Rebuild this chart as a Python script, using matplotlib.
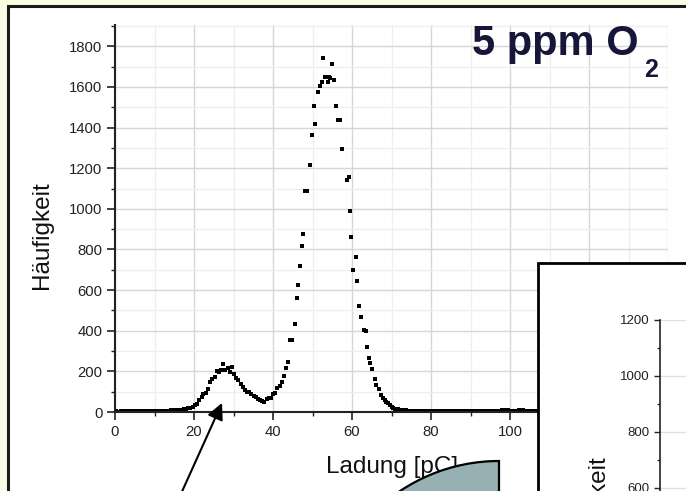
import matplotlib
matplotlib.use("Agg")
import matplotlib.pyplot as plt
from matplotlib.patches import Rectangle, Wedge
from matplotlib.ticker import MultipleLocator

plt.rcParams['font.family'] = ['Liberation Sans', 'DejaVu Sans']

# charge spectrum (pC) and counts per bin
charge_low = [0.3, 0.9, 1.4, 2.0, 2.5, 3.1, 3.6, 4.2, 4.7, 5.3, 5.8, 6.4, 6.9, 7.5, 8.0,
              8.6, 9.1, 9.7, 10.2, 10.8, 11.3, 11.9, 12.4, 13.0, 13.5, 14.1, 14.6, 15.2,
              15.7, 16.3]
counts_low = [3, 2, 3, 3, 2, 3, 3, 4, 3, 3, 4, 4, 3, 4, 4,
              5, 4, 5, 5, 5, 6, 6, 6, 7, 7, 8, 8, 9,
              10, 11]

charge_peak = [16.8, 17.4, 18.0, 18.5, 19.1, 19.7, 20.2, 20.7, 21.3, 21.9, 22.4, 23.0,
               23.6, 24.1, 24.6, 25.2, 25.7, 26.3, 26.8, 27.4, 27.9, 28.5, 29.0, 29.6,
               30.1, 30.7, 31.2, 31.8, 32.3, 32.9, 33.4, 34.0, 34.5, 35.1, 35.6, 36.2,
               36.7, 37.3, 37.8, 38.4, 38.9, 39.5, 40.0, 40.6, 41.1, 41.7, 42.2, 42.8,
               43.3, 43.8, 44.3, 44.9, 45.5, 46.0, 46.4, 46.8, 47.3, 47.7, 48.1, 48.6,
               49.4, 49.8, 50.3, 50.7, 51.3, 51.9, 52.4, 52.7, 53.2, 54.0, 54.1, 54.4,
               54.9, 55.4, 55.9, 56.4, 56.9, 57.4, 58.7, 59.2, 59.5, 59.7, 60.3, 60.9,
               61.3, 61.8, 62.4, 63.0, 63.5, 63.8, 64.3, 64.6, 65.1, 65.7, 66.2, 66.8,
               67.4, 67.8, 68.3, 68.7, 69.2, 69.6, 70.0, 70.4, 71.0, 71.6, 72.1]
counts_peak = [12, 13, 15, 18, 21, 25, 32, 38, 57, 74, 88, 95,
               112, 148, 160, 172, 200, 195, 208, 238, 205, 215, 198, 222,
               188, 168, 158, 140, 125, 110, 100, 96, 88, 78, 72, 65,
               58, 52, 50, 62, 70, 68, 90, 95, 120, 130, 150, 175,
               218, 248, 355, 352, 434, 561, 627, 717, 816, 874, 1086, 1086,
               1215, 1363, 1506, 1417, 1575, 1605, 1625, 1742, 1648, 1625, 1649, 1646,
               1713, 1635, 1506, 1437, 1437, 1294, 1141, 1156, 988, 859, 698, 762,
               643, 523, 466, 405, 400, 321, 268, 243, 212, 163, 133, 114,
               84, 68, 60, 51, 42, 35, 27, 21, 16, 13, 10]

charge_high = [72.6, 73.2, 73.7, 74.3, 74.8, 75.4, 75.9, 76.5, 77.0, 77.6, 78.1, 78.7,
               79.2, 79.8, 80.3, 80.9, 81.4, 82.0, 82.5, 83.1, 83.6, 84.2, 84.7, 85.3,
               85.8, 86.4, 86.9, 87.5, 88.0, 88.6, 89.1, 89.7, 90.2, 90.8, 91.3, 91.9,
               92.4, 93.0, 93.5, 94.1, 94.6, 95.2, 95.7, 96.3, 96.8, 97.4, 97.9, 98.5,
               99.0, 99.6, 100.1, 100.7, 101.2, 101.8, 102.3, 102.9, 103.4, 104.0,
               104.5, 105.1, 105.6, 106.2, 106.7]
counts_high = [9, 8, 8, 7, 7, 7, 6, 6, 6, 5, 6, 5,
               5, 5, 5, 4, 5, 4, 5, 4, 4, 5, 4, 4,
               5, 4, 4, 5, 4, 4, 5, 5, 4, 4, 5, 4,
               5, 4, 4, 5, 5, 4, 5, 6, 6, 7, 8, 9,
               9, 8, 7, 6, 5, 6, 8, 9, 8, 6,
               5, 5, 4, 5, 4]

x_ticks = [0, 20, 40, 60, 80, 100, 120, 140]
y_ticks = [0, 200, 400, 600, 800, 1000, 1200, 1400, 1600, 1800]
inset_ticks = [0, 200, 400, 600, 800, 1000, 1200]

W, H = 686, 491
fig = plt.figure(figsize=(W / 100, H / 100), dpi=100)
fig.patch.set_facecolor('#fcfee3')

# slide frame
bg = fig.add_axes([0, 0, 1, 1], zorder=0)
bg.set_xlim(0, W)
bg.set_ylim(H, 0)
bg.axis('off')
bg.add_patch(Rectangle((8, 6), 700, 500, facecolor='white', edgecolor='#1c1c1c', lw=2.2))

# main spectrum
ax = fig.add_axes([115 / W, 1 - 412 / H, 553 / W, 387 / H], zorder=1)
ax.set_facecolor('none')
ax.plot(charge_low, counts_low, 's', ms=2.6, mew=0, color='black')
ax.plot(charge_peak, counts_peak, 's', ms=2.6, mew=0, color='black')
ax.plot(charge_high, counts_high, 's', ms=2.6, mew=0, color='black')
ax.set_xlim(0, 140)
ax.set_ylim(0, 1905)
ax.set_xticks(x_ticks)
ax.set_yticks(y_ticks)
ax.xaxis.set_minor_locator(MultipleLocator(10))
ax.yaxis.set_minor_locator(MultipleLocator(100))
ax.grid(which='major', color='#d6d6d6', lw=1.0)
ax.grid(which='minor', color='#eeeeee', lw=0.9)
ax.set_axisbelow(True)
for s in ['top', 'right']:
    ax.spines[s].set_visible(False)
for s in ['left', 'bottom']:
    ax.spines[s].set_linewidth(1.5)
    ax.spines[s].set_color('#222222')
ax.tick_params(which='major', length=5.5, width=1.2, color='#222222', labelsize=10.7,
               labelcolor='#222222')
ax.tick_params(which='minor', length=3.2, width=1.0, color='#222222')
ax.tick_params(axis='x', pad=3.5)
ax.tick_params(axis='y', pad=3.5)

# overlay: labels, title, inset frame, wedge, arrow
ov = fig.add_axes([0, 0, 1, 1], zorder=2)
ov.set_facecolor('none')
ov.set_xlim(0, W)
ov.set_ylim(H, 0)
ov.axis('off')
ov.text(392, 467, 'Ladung [pC]', fontsize=17.5, ha='center', va='center', color='#111111')
ov.text(42, 235, 'Häufigkeit', fontsize=17.5, rotation=90, ha='center', va='center',
        color='#111111')
ov.text(472, 55, '5 ppm O', fontsize=30, fontweight='bold', color='#16163a',
        ha='left', va='baseline')
ov.text(644, 77, '2', fontsize=18, fontweight='bold', color='#16163a',
        ha='left', va='baseline')
ov.add_patch(Rectangle((538, 263), 200, 260, facecolor='white', edgecolor='black',
                       lw=2.0, zorder=3))
ov.text(598, 509, 'Häufigkeit', fontsize=17.5, rotation=90, ha='center', va='center',
        color='#111111', zorder=4)
ov.add_patch(Wedge((499, 639), 178, 180, 270, facecolor='#96b0b3', edgecolor='black',
                   lw=1.6, zorder=5))
ov.annotate('', xy=(222, 403), xytext=(180, 496),
            arrowprops=dict(arrowstyle='-|>,head_length=0.7,head_width=0.35',
                            mutation_scale=14, lw=1.5, color='black',
                            shrinkA=0, shrinkB=0), zorder=6)

# inset spectrum axis
ins = fig.add_axes([660 / W, 1 - 656 / H, 300 / W, 336 / H], zorder=3)
ins.set_facecolor('none')
ins.set_ylim(0, 1200)
ins.set_xlim(0, 1)
ins.set_yticks(inset_ticks)
ins.yaxis.set_minor_locator(MultipleLocator(100))
ins.set_xticks([])
ins.grid(axis='y', which='major', color='#e2e2e2', lw=1.0)
for s in ['top', 'right', 'bottom']:
    ins.spines[s].set_visible(False)
ins.spines['left'].set_linewidth(1.2)
ins.spines['left'].set_color('#222222')
ins.tick_params(which='major', length=4.5, width=1.0, color='#222222', labelsize=9.5,
                labelcolor='#222222', pad=3)
ins.tick_params(which='minor', length=2.5, width=0.9, color='#222222')

fig.savefig('out.png', dpi=100, facecolor=fig.get_facecolor())
